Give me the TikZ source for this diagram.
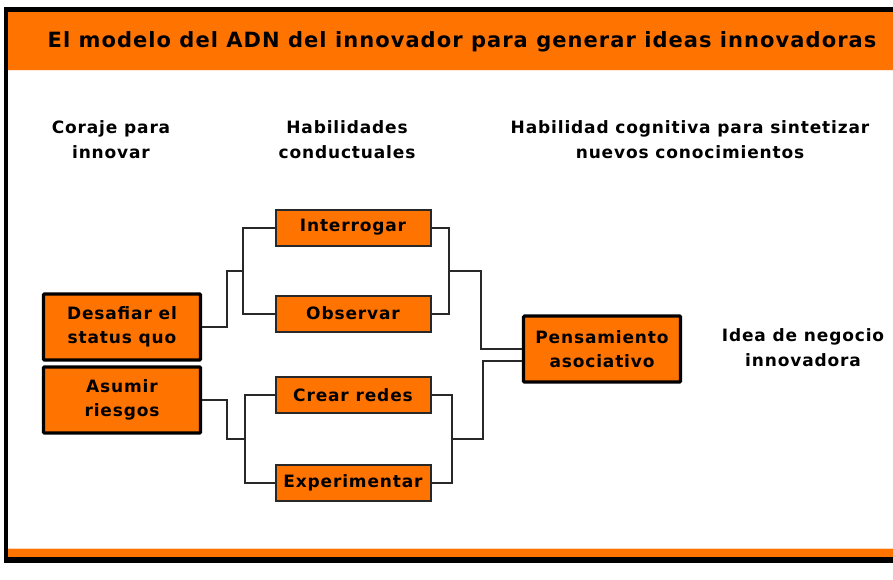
\documentclass[tikz,border=0pt]{standalone}
\usepackage{fontspec}
\setmainfont{DejaVu Sans Bold}[LetterSpace=5]
\usetikzlibrary{calc}
\definecolor{orng}{RGB}{255,115,0}
\definecolor{dgray}{RGB}{40,40,40}
\tikzset{
  lbl/.style={font=\fontsize{17}{25}\selectfont, align=center, text=black, inner sep=0pt},
  thinbox/.style={draw=dgray, line width=2pt, fill=orng, minimum width=155pt, minimum height=36pt, inner sep=0pt, font=\fontsize{17}{24}\selectfont, align=center},
  thickbox/.style={draw=black, line width=3.2pt, fill=orng, rounded corners=1pt, minimum width=157pt, minimum height=66pt, inner sep=0pt, font=\fontsize{17}{24}\selectfont, align=center},
  conn/.style={draw=dgray, line width=2pt}
}
\begin{document}
\begin{tikzpicture}[x=1pt,y=-1pt]
\useasboundingbox (0,0) rectangle (893,579);
% frame
\fill[orng] (8,12) rectangle (893,70);
\draw[white!85!orng, line width=1pt] (8,70.5) -- (893,70.5);
\fill[orng] (8,548) rectangle (893,557);
\draw[white!70!orng, line width=1pt] (8,548) -- (893,548);
\fill[black] (4,7) rectangle (893,12);
\fill[black] (4,7) rectangle (8,563);
\fill[black] (4,557) rectangle (893,563);
\node[lbl, font=\fontsize{21}{25}\selectfont] (title) at (462,42) {El modelo del ADN del innovador para generar ideas innovadoras};
% column headers
\node[lbl] (h1) at (111,140) {Coraje para\\innovar};
\node[lbl] (h2) at (347,140) {Habilidades\\conductuales};
\node[lbl] (h3) at (690,140) {Habilidad cognitiva para sintetizar\\nuevos conocimientos};
% boxes
\node[thickbox] (des) at (122,327) {Desafiar el\\status quo};
\node[thickbox] (asu) at (122,400) {Asumir\\riesgos};
\node[thinbox] (int) at (353,227.5) {Interrogar};
\node[thinbox] (obs) at (353,313.5) {Observar};
\node[thinbox] (cre) at (353,395) {Crear redes};
\node[thinbox] (exp) at (353,482.5) {Experimentar};
\node[thickbox] (pen) at (602,349) {Pensamiento\\asociativo};
\node[lbl] (idea) at (803,348) {Idea de negocio\\innovadora};
% connectors
\draw[conn] (int.west) -- ++(-32,0) coordinate (b1t) |- (obs.west);
\draw[conn] (des.east) -- ++(25,0) |- ($(b1t)!0.5!(b1t|-obs.west)$);
\draw[conn] (cre.west) -- ++(-30,0) coordinate (b2t) |- (exp.west);
\draw[conn] (asu.east) -- ++(25,0) |- ($(b2t)!0.5!(b2t|-exp.west)$);
\draw[conn] (int.east) -- ++(17,0) coordinate (b3t) |- (obs.east);
\draw[conn] ($(b3t)!0.5!(b3t|-obs.east)$) -- ++(32,0) |- (pen.west);
\draw[conn] (cre.east) -- ++(20,0) coordinate (b4t) |- (exp.east);
\draw[conn] ($(b4t)!0.5!(b4t|-exp.east)$) -- ++(31,0) |- ([yshift=-12pt]pen.west);
\end{tikzpicture}
\end{document}
